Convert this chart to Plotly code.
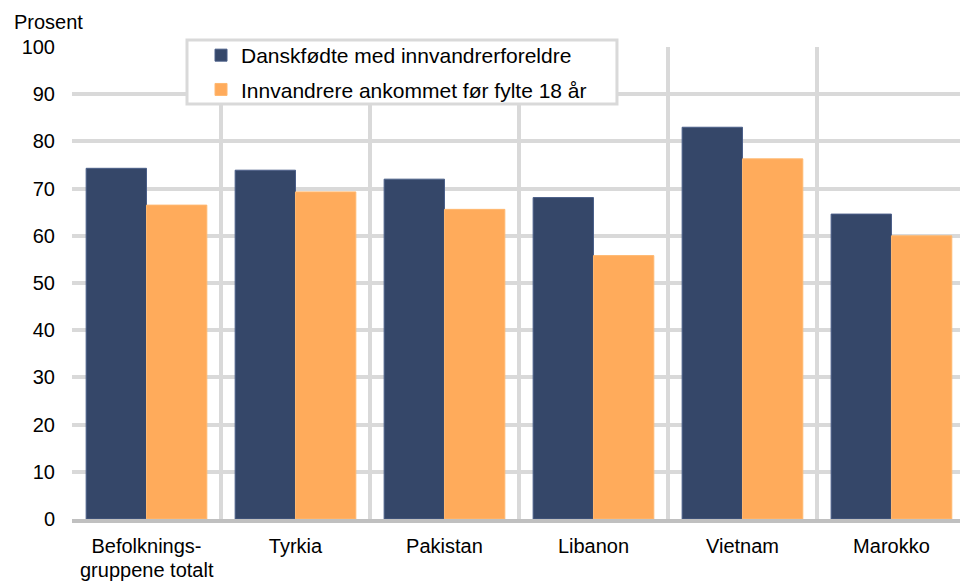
import plotly.graph_objects as go

categories = ["Befolknings-<br>gruppene totalt", "Tyrkia", "Pakistan", "Libanon", "Vietnam", "Marokko"]
danskfodte = [74.3, 73.9, 72.0, 68.1, 83.0, 64.6]
innvandrere = [66.5, 69.3, 65.6, 55.8, 76.3, 60.0]
series_names = ["Danskfødte med innvandrerforeldre", "Innvandrere ankommet før fylte 18 år"]
y_ticks = [0, 10, 20, 30, 40, 50, 60, 70, 80, 90, 100]
y_title = "Prosent"

x = list(range(len(categories)))
boundaries = [i - 0.5 for i in range(len(categories) + 1)]
first_lines = [c.split("<br>")[0] for c in categories]
second_lines = [(i, c.split("<br>")[1]) for i, c in enumerate(categories) if "<br>" in c]

FONT = "Liberation Sans, Arial, sans-serif"
GRID = "#d9d9d9"

fig = go.Figure()
fig.add_trace(go.Bar(x=x, y=danskfodte, name=series_names[0], legendgroup="a",
                     marker=dict(color="#354769", line=dict(color="#4a5e88", width=1))))
fig.add_trace(go.Bar(x=x, y=innvandrere, name=series_names[1], legendgroup="b",
                     marker=dict(color="#ffab5b", line=dict(color="#ffb870", width=1))))

fig.update_layout(
    width=960, height=581,
    margin=dict(l=72, r=0, t=47, b=61.5, autoexpand=False),
    paper_bgcolor="white", plot_bgcolor="white",
    font=dict(family=FONT, size=20, color="#000000"),
    barmode="group", bargap=0.19, bargroupgap=0,
    legend=dict(x=0.1453, y=1.0254, xanchor="left", yanchor="top",
                bgcolor="rgba(0,0,0,0)", borderwidth=0,
                font=dict(size=21), tracegroupgap=4, itemwidth=30),
    showlegend=True,
)
# legend frame
fig.add_shape(type="rect", xref="paper", yref="paper",
              x0=0.1295, x1=0.6137, y0=0.8794, y1=1.0148,
              line=dict(color=GRID, width=3), fillcolor="white", layer="above")

fig.update_xaxes(
    range=[-0.5, 5.46], tickmode="array", tickvals=x, ticktext=first_lines,
    showgrid=False, showline=True, linecolor="#c0c0c0", linewidth=4,
    ticks="", tickfont=dict(size=20), ticklabelstandoff=6,
    minor=dict(tickmode="array", tickvals=boundaries, showgrid=True,
               gridcolor=GRID, gridwidth=4, ticks=""),
)
fig.update_yaxes(
    range=[0, 100], tickmode="array", tickvals=y_ticks,
    showgrid=True, gridcolor=GRID, gridwidth=4, zeroline=False,
    ticks="", ticklabelstandoff=16, tickfont=dict(size=20),
)
for i, txt in second_lines:
    fig.add_annotation(text=txt, xref="x", yref="paper", x=i, y=-0.107,
                       xanchor="center", yanchor="middle", showarrow=False,
                       font=dict(size=20))
fig.add_annotation(text=y_title, xref="paper", yref="paper", x=-0.0676, y=1.053,
                   xanchor="left", yanchor="middle", showarrow=False,
                   font=dict(size=20))

fig.write_html("out.html", config={"displayModeBar": False},
               post_script="document.body.style.margin='0';")
